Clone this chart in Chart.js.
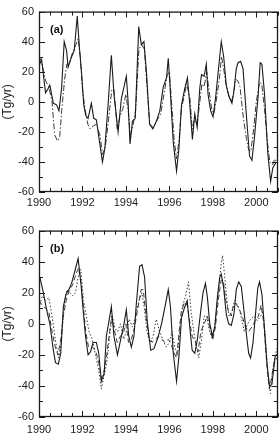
<!DOCTYPE html>
<html>
<head>
<meta charset="utf-8">
<script src="https://cdn.jsdelivr.net/npm/chart.js@4.4.1/dist/chart.umd.min.js"></script>
<style>
  html, body { margin: 0; padding: 0; background: #fff; }
  #wrap { position: relative; width: 279px; height: 438px; }
  .panel { position: absolute; left: 0; width: 279px; height: 219px; }
  #pa { top: 0; }
  #pb { top: 219px; }
</style>
</head>
<body>
<div id="wrap">
  <div class="panel" id="pa"><canvas id="chart-a"></canvas></div>
  <div class="panel" id="pb"><canvas id="chart-b"></canvas></div>
</div>
<script>
// axis setup
const xMin = 1990, xMax = 2001;
const yMin = -60, yMax = 60;
const xLabels = [1990, 1992, 1994, 1996, 1998, 2000];
const yLabels = [-60, -40, -20, 0, 20, 40, 60];

// panel (a) - solid
const aSolidT = [1990.00, 1990.12, 1990.30, 1990.43, 1990.50, 1990.66, 1990.81, 1990.92, 1991.04, 1991.16, 1991.27,
  1991.34, 1991.50, 1991.62, 1991.76, 1991.86, 1991.96, 1992.06, 1992.15, 1992.26, 1992.41,
  1992.52, 1992.64, 1992.77, 1992.92, 1993.03, 1993.18, 1993.33, 1993.45, 1993.64, 1993.79,
  1994.02, 1994.10, 1994.19, 1994.30, 1994.43, 1994.59, 1994.71, 1994.83, 1994.95, 1995.09,
  1995.24, 1995.40, 1995.56, 1995.72, 1995.87, 1995.95, 1996.02, 1996.18, 1996.33, 1996.44,
  1996.56, 1996.71, 1996.83, 1996.94, 1997.06, 1997.17, 1997.28, 1997.40, 1997.48, 1997.60,
  1997.70, 1997.78, 1997.90, 1998.01, 1998.13, 1998.24, 1998.39, 1998.50, 1998.62, 1998.73,
  1998.88, 1998.97, 1999.08, 1999.16, 1999.28, 1999.39, 1999.54, 1999.69, 1999.80, 1999.92,
  2000.08, 2000.18, 2000.26, 2000.38, 2000.53, 2000.66, 2000.76, 2000.92];
const aSolidV = [24, 28, 6, 9, 11, -1, -2, -6, 9, 40, 34,
  23, 30, 34, 57, 36, 19, -2, -9, -11, -1,
  -11, -12, -25, -40, -31, -2, 31, 5, -20, 2,
  17, 0, -28, -13, -11, 50, 38, 40, 19, -15,
  -18, -13, -6, 10, 16, 29, 13, -27, -46, -31,
  -2, 9, 16, -2, -25, -8, -17, 9, 18, 17,
  25, 5, -6, -10, 3, 19, 40, 30, 11, 4,
  -1, 7, 22, 26, 27, 22, -8, -36, -39, -23,
  3, 26, 25, 5, -34, -53, -44, -40];

// panel (a) - dash-dot
const aDashT = [1990.00, 1990.12, 1990.30, 1990.45, 1990.60, 1990.72, 1990.85, 1990.95, 1991.05, 1991.18,
  1991.28, 1991.40, 1991.55, 1991.70, 1991.80, 1991.90, 1992.00, 1992.12, 1992.25, 1992.35,
  1992.50, 1992.65, 1992.80, 1992.93, 1993.05, 1993.20, 1993.35, 1993.45, 1993.60, 1993.72,
  1993.85, 1994.00, 1994.12, 1994.20, 1994.30, 1994.45, 1994.60, 1994.72, 1994.85, 1994.97,
  1995.10, 1995.25, 1995.45, 1995.60, 1995.75, 1995.90, 1996.00, 1996.10, 1996.22, 1996.33,
  1996.45, 1996.55, 1996.70, 1996.80, 1996.95, 1997.05, 1997.15, 1997.28, 1997.40, 1997.50,
  1997.60, 1997.72, 1997.82, 1997.95, 1998.05, 1998.15, 1998.30, 1998.40, 1998.50, 1998.60,
  1998.72, 1998.85, 1998.95, 1999.05, 1999.15, 1999.25, 1999.40, 1999.55, 1999.65, 1999.75,
  1999.88, 2000.00, 2000.15, 2000.25, 2000.38, 2000.50, 2000.62, 2000.75, 2000.85, 2000.95];
const aDashV = [30, 27, 14, 10, 0, -22, -26, -24, -5, 15,
  25, 26, 33, 38, 42, 30, 8, -5, -15, -18,
  -16, -15, -22, -35, -30, -12, 8, 8, -18, -10,
  -5, 5, -8, -22, -18, -5, 35, 38, 35, 10,
  -15, -17, -12, -8, 5, 18, 20, 0, -25, -38,
  -25, -5, 5, 12, 2, -18, -12, -15, 0, 12,
  10, 20, 8, -5, -8, 0, 15, 30, 22, 12,
  5, 0, 5, 15, 14, 10, -10, -25, -32, -33,
  -18, 0, 13, 12, -5, -25, -40, -42, -38, -40];

// panel (b) - solid
const bSolidT = [1990.04, 1990.20, 1990.35, 1990.50, 1990.66, 1990.76, 1990.89, 1991.00, 1991.12, 1991.24,
  1991.37, 1991.50, 1991.65, 1991.80, 1991.93, 1992.03, 1992.14, 1992.26, 1992.37, 1992.49,
  1992.64, 1992.75, 1992.87, 1993.00, 1993.10, 1993.26, 1993.33, 1993.45, 1993.61, 1993.76,
  1993.90, 1994.02, 1994.13, 1994.25, 1994.37, 1994.48, 1994.63, 1994.74, 1994.86, 1994.98,
  1995.14, 1995.29, 1995.47, 1995.64, 1995.80, 1995.95, 1996.05, 1996.18, 1996.33, 1996.44,
  1996.56, 1996.71, 1996.82, 1996.91, 1997.05, 1997.17, 1997.29, 1997.45, 1997.55, 1997.66,
  1997.75, 1997.86, 1997.98, 1998.09, 1998.21, 1998.32, 1998.39, 1998.50, 1998.62, 1998.73,
  1998.85, 1998.97, 1999.08, 1999.19, 1999.31, 1999.43, 1999.54, 1999.65, 1999.74, 1999.85,
  1999.95, 2000.07, 2000.15, 2000.26, 2000.38, 2000.50, 2000.61, 2000.72, 2000.87, 2001.00];
const bSolidV = [30, 20, 9, 0, -17, -25, -26, -19, 11, 19,
  22, 26, 34, 42, 26, 9, -8, -20, -18, -12,
  -12, -19, -37, -32, -8, 5, 11, -8, -20, -10,
  -1, 9, -8, -15, -8, 13, 37, 38, 30, 2,
  -17, -16, -9, 0, 11, 22, 11, -19, -37, -21,
  4, 11, 15, 2, -17, -19, -10, 9, 20, 26,
  17, 0, -8, -2, 17, 30, 32, 23, 6, 0,
  -1, 6, 22, 27, 24, 9, -6, -19, -22, -12,
  4, 23, 27, 19, -4, -27, -40, -39, -21, -19];

// panel (b) - dashed
const bDashT = [1990.00, 1990.15, 1990.30, 1990.45, 1990.60, 1990.75, 1990.87, 1991.00, 1991.12, 1991.25,
  1991.40, 1991.55, 1991.70, 1991.82, 1991.95, 1992.05, 1992.15, 1992.28, 1992.45, 1992.60,
  1992.75, 1992.87, 1993.00, 1993.12, 1993.25, 1993.35, 1993.45, 1993.60, 1993.75, 1993.90,
  1994.00, 1994.12, 1994.25, 1994.40, 1994.55, 1994.70, 1994.80, 1994.92, 1995.05, 1995.20,
  1995.35, 1995.50, 1995.65, 1995.80, 1995.95, 1996.05, 1996.20, 1996.33, 1996.45, 1996.55,
  1996.70, 1996.82, 1996.95, 1997.05, 1997.20, 1997.32, 1997.45, 1997.60, 1997.75, 1997.85,
  1998.00, 1998.12, 1998.25, 1998.38, 1998.48, 1998.60, 1998.72, 1998.85, 1998.95, 1999.05,
  1999.20, 1999.35, 1999.50, 1999.65, 1999.80, 1999.95, 2000.10, 2000.22, 2000.35, 2000.48,
  2000.60, 2000.70, 2000.82, 2000.95];
const bDashV = [15, 12, 10, 8, -5, -15, -20, -10, 5, 15,
  22, 25, 32, 36, 25, 10, -5, -15, -15, -17,
  -25, -35, -30, -20, -5, 5, -3, -12, -8, -5,
  0, -12, -10, -2, 10, 22, 22, 5, -8, -12,
  -10, -8, -10, -12, -10, -12, -18, -22, -5, 8,
  14, 12, 0, -8, -12, -18, -5, 0, 5, -2,
  -10, -2, 15, 28, 28, 15, 8, 5, 12, 13,
  10, 5, -2, -5, -2, 2, 5, 12, 0, -25,
  -42, -35, -25, -22];

// panel (b) - dotted
const bDotT = [1990.00, 1990.15, 1990.30, 1990.45, 1990.60, 1990.75, 1990.90, 1991.02, 1991.15, 1991.28,
  1991.42, 1991.55, 1991.68, 1991.80, 1991.92, 1992.05, 1992.18, 1992.30, 1992.45, 1992.60,
  1992.75, 1992.87, 1993.00, 1993.12, 1993.25, 1993.37, 1993.50, 1993.62, 1993.75, 1993.90,
  1994.02, 1994.15, 1994.30, 1994.45, 1994.60, 1994.73, 1994.85, 1994.97, 1995.10, 1995.25,
  1995.40, 1995.55, 1995.70, 1995.85, 1996.00, 1996.12, 1996.25, 1996.38, 1996.50, 1996.62,
  1996.75, 1996.88, 1997.00, 1997.12, 1997.25, 1997.35, 1997.48, 1997.60, 1997.72, 1997.85,
  1997.98, 1998.10, 1998.25, 1998.38, 1998.45, 1998.55, 1998.65, 1998.75, 1998.88, 1999.00,
  1999.15, 1999.30, 1999.45, 1999.60, 1999.75, 1999.90, 2000.05, 2000.20, 2000.32, 2000.45,
  2000.55, 2000.65, 2000.75, 2000.88, 2000.98];
const bDotV = [10, 18, 15, 17, 5, -10, -22, -12, 10, 22,
  20, 18, 20, 30, 35, 15, 5, -5, -10, -20,
  -30, -42, -33, -25, -8, 5, -3, -5, 0, -10,
  -5, 3, -2, 5, 15, 20, 10, -5, -12, -8,
  3, -5, -10, -15, -12, -5, -15, -20, 0, 12,
  18, 27, 8, -5, -15, -22, -10, 5, 5, -5,
  -10, 0, 20, 38, 44, 30, 15, 5, 8, 15,
  12, 5, -5, 0, 3, 5, 2, 5, 8, -15,
  -35, -45, -30, -20, -15];

function pts(ts, vs) {
  return ts.map((t, i) => ({ x: t, y: vs[i] }));
}

function line(ts, vs, dash, color, width) {
  return {
    data: pts(ts, vs),
    borderColor: color,
    borderWidth: width,
    borderDash: dash,
    pointRadius: 0,
    tension: 0,
    fill: false
  };
}

// frame, inward ticks on all four sides, and the panel letter
const frameTicks = {
  id: 'frameTicks',
  afterDraw(chart, args, opts) {
    const { ctx, chartArea: a, scales: { x, y } } = chart;
    ctx.save();
    ctx.strokeStyle = '#1a1a1a';
    ctx.lineWidth = 1.3;
    ctx.strokeRect(a.left + 0.5, a.top + 0.5, a.right - a.left - 1, a.bottom - a.top - 1);
    ctx.lineWidth = 1;
    ctx.beginPath();
    for (let t = xMin; t <= xMax + 0.001; t += 0.5) {
      const px = Math.round(x.getPixelForValue(t)) + 0.5;
      const len = (Math.abs(t % 2) < 0.01) ? 6 : 4;
      ctx.moveTo(px, a.bottom); ctx.lineTo(px, a.bottom - len);
      ctx.moveTo(px, a.top); ctx.lineTo(px, a.top + len);
    }
    for (let v = yMin; v <= yMax; v += 10) {
      const py = Math.round(y.getPixelForValue(v)) + 0.5;
      const len = (v % 20 === 0) ? 6 : 4;
      ctx.moveTo(a.left, py); ctx.lineTo(a.left + len, py);
      ctx.moveTo(a.right, py); ctx.lineTo(a.right - len, py);
    }
    ctx.stroke();
    ctx.fillStyle = '#111';
    ctx.font = 'bold 11px "Liberation Sans", Arial, sans-serif';
    ctx.textBaseline = 'middle';
    ctx.fillText(opts.tag, a.left + 11, a.top + 18);
    ctx.restore();
  }
};

function makeChart(id, datasets, tag, padTop, xPad, xHeight) {
  return new Chart(document.getElementById(id), {
    type: 'line',
    data: { datasets: datasets },
    plugins: [frameTicks],
    options: {
      responsive: true,
      maintainAspectRatio: false,
      animation: false,
      layout: { padding: { top: padTop, right: 1, left: 0, bottom: 0 } },
      plugins: {
        legend: { display: false },
        tooltip: { enabled: false },
        frameTicks: { tag: tag }
      },
      scales: {
        x: {
          type: 'linear',
          min: xMin,
          max: xMax,
          border: { display: false },
          grid: { display: false, drawTicks: false },
          afterFit: s => { s.height = xHeight; },
          afterBuildTicks: s => { s.ticks = xLabels.map(v => ({ value: v })); },
          ticks: {
            padding: xPad,
            color: '#222',
            maxRotation: 0,
            autoSkip: false,
            font: { family: '"Liberation Sans", Arial, sans-serif', size: 11 },
            callback: v => String(v)
          }
        },
        y: {
          min: yMin,
          max: yMax,
          border: { display: false },
          grid: { display: false, drawTicks: false },
          afterFit: s => { s.width = 39; },
          afterBuildTicks: s => { s.ticks = yLabels.map(v => ({ value: v })); },
          title: {
            display: true,
            text: '(Tg/yr)',
            color: '#222',
            padding: 0,
            font: { family: '"Liberation Sans", Arial, sans-serif', size: 12 }
          },
          ticks: {
            padding: 5,
            color: '#222',
            font: { family: '"Liberation Sans", Arial, sans-serif', size: 11 }
          }
        }
      }
    }
  });
}

makeChart('chart-a', [
  line(aSolidT, aSolidV, [], '#1a1a1a', 1.1),
  line(aDashT, aDashV, [6, 2, 1.5, 2], '#3a3a3a', 1)
], '(a)', 3, 4, 27);

makeChart('chart-b', [
  line(bSolidT, bSolidV, [], '#1a1a1a', 1.1),
  line(bDashT, bDashV, [5, 3], '#3a3a3a', 1),
  line(bDotT, bDotV, [1.5, 2], '#3a3a3a', 1)
], '(b)', 10, 6, 21);
</script>
</body>
</html>
